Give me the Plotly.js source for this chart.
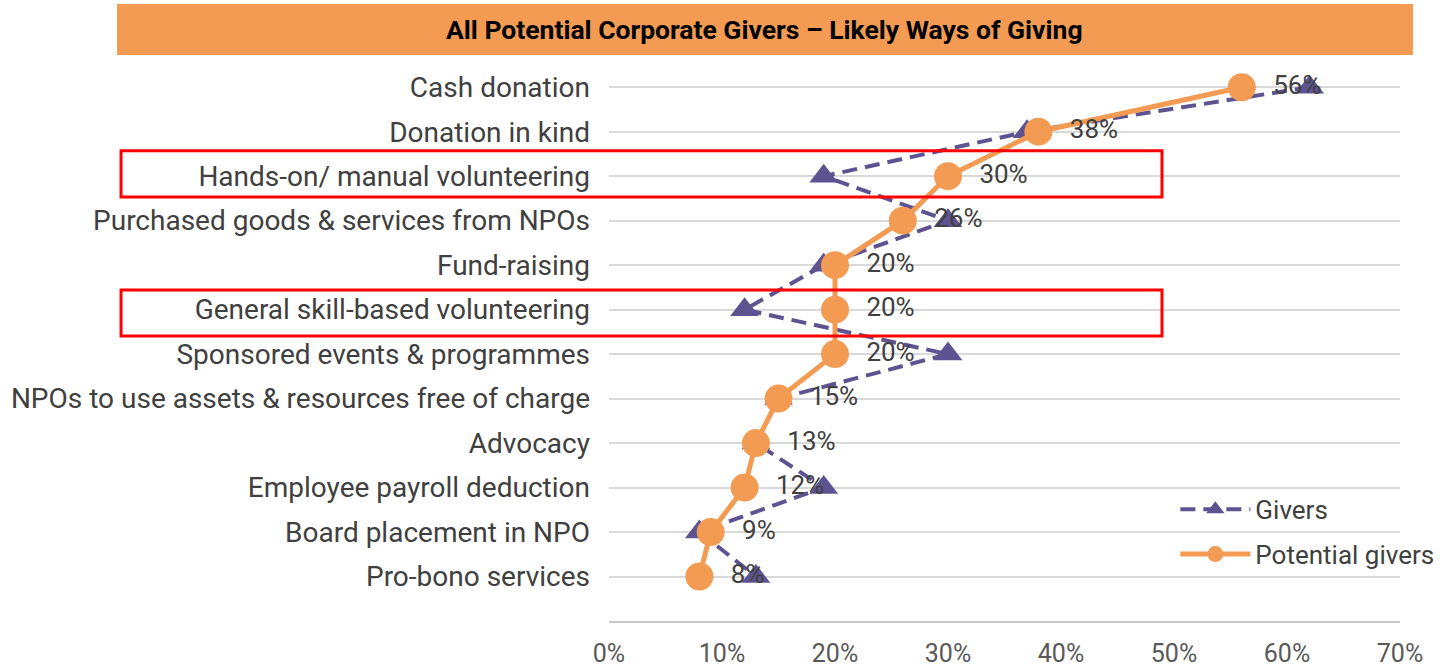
<!DOCTYPE html>
<html>
<head>
<meta charset="utf-8">
<script src="https://cdn.plot.ly/plotly-3.0.1.min.js"></script>
<style>
  html, body { margin: 0; padding: 0; background: #ffffff; }
  #chart { width: 1442px; height: 667px; }
</style>
</head>
<body>
<div id="chart"></div>
<script>
// Ways of giving, top to bottom as in the source chart
const categories = [
    'Cash donation',
    'Donation in kind',
    'Hands-on/ manual volunteering',
    'Purchased goods & services from NPOs',
    'Fund-raising',
    'General skill-based volunteering',
    'Sponsored events & programmes',
    'NPOs to use assets & resources free of charge',
    'Advocacy',
    'Employee payroll deduction',
    'Board placement in NPO',
    'Pro-bono services',
];

// Percent of companies
const givers = [62, 37, 19, 30, 19, 12, 30, 15, 13, 19, 8, 13];
const potentialGivers = [56, 38, 30, 26, 20, 20, 20, 15, 13, 12, 9, 8];

const xTicks = [0, 10, 20, 30, 40, 50, 60, 70];

// Rows that are boxed in red in the original
const highlightedRows = [2, 5];

const ORANGE = '#F39B53';
const PURPLE = '#5E5391';
const TEXT = '#404040';
const FONT = 'Roboto, sans-serif';

const rowIndex = categories.map((c, i) => i);

const traces = [
    {
        name: 'Givers',
        x: givers,
        y: rowIndex,
        type: 'scatter',
        mode: 'lines+markers',
        legendgroup: 'g1',
        line: { color: PURPLE, width: 4, dash: '15px,8px' },
        marker: { symbol: 'triangle-up', size: 25, color: PURPLE },
        hovertemplate: '%{text}<br>Givers: %{x}%<extra></extra>',
        text: categories,
    },
    {
        name: 'Potential givers',
        x: potentialGivers,
        y: rowIndex,
        type: 'scatter',
        mode: 'lines+markers+text',
        legendgroup: 'g2',
        line: { color: ORANGE, width: 5 },
        marker: { symbol: 'circle', size: 28, color: ORANGE },
        // non-breaking spaces push the label a bit further from the dot
        text: potentialGivers.map(v => '\u00a0\u00a0' + v + '%'),
        textposition: 'middle right',
        textfont: { family: FONT, size: 26, color: TEXT },
        hovertemplate: 'Potential givers: %{x}%<extra></extra>',
    },
];

// Orange title band plus red highlight boxes around selected rows
const shapes = [
    {
        type: 'rect', xref: 'paper', yref: 'paper',
        x0: -0.622, x1: 1.0164, y0: 1.018, y1: 1.1097,
        fillcolor: ORANGE, line: { width: 0 }, layer: 'below',
    },
];
const boxOffsets = [[-0.57, 0.47], [-0.44, 0.59]];
highlightedRows.forEach((r, k) => {
    shapes.push({
        type: 'rect', xref: 'paper', yref: 'y',
        x0: -0.6169, x1: 0.6991,
        y0: r + boxOffsets[k][0], y1: r + boxOffsets[k][1],
        line: { color: '#FF0000', width: 3 },
        fillcolor: 'rgba(0,0,0,0)',
        layer: 'above',
    });
});

Plotly.newPlot('chart', traces, {
    width: 1442,
    height: 667,
    margin: { t: 65, r: 42, l: 609, b: 46, autoexpand: false },
    paper_bgcolor: '#ffffff',
    plot_bgcolor: '#ffffff',
    font: { family: FONT, size: 26, color: TEXT },
    showlegend: true,
    legend: {
        x: 0.716, y: 0.243, xanchor: 'left', yanchor: 'top',
        bgcolor: 'rgba(0,0,0,0)',
        font: { family: FONT, size: 26, color: TEXT },
        itemwidth: 70,
        tracegroupgap: 8,
    },
    xaxis: {
        range: [0, 70],
        tickvals: xTicks,
        ticktext: xTicks.map(v => v + '%'),
        showgrid: false,
        zeroline: false,
        showline: true,
        linecolor: '#C8C8C8',
        linewidth: 2,
        ticks: '',
        ticklabelstandoff: 9,
        tickfont: { family: FONT, size: 25, color: '#595959' },
        automargin: false,
        fixedrange: true,
    },
    yaxis: {
        range: [12, -0.5],
        tickvals: rowIndex,
        ticktext: categories,
        showgrid: true,
        gridcolor: '#D9D9D9',
        gridwidth: 2,
        zeroline: false,
        showline: false,
        ticks: '',
        ticklabelstandoff: 18,
        tickfont: { family: FONT, size: 28, color: TEXT },
        automargin: false,
        fixedrange: true,
    },
    shapes: shapes,
    annotations: [
        {
            text: '<b>All Potential Corporate Givers – Likely Ways of Giving</b>',
            xref: 'paper', yref: 'paper',
            x: 0.197, y: 1.064,
            xanchor: 'center', yanchor: 'middle',
            showarrow: false,
            font: { family: FONT, size: 26.5, color: '#000000' },
        },
    ],
}, { displayModeBar: false, responsive: false });
</script>
</body>
</html>
